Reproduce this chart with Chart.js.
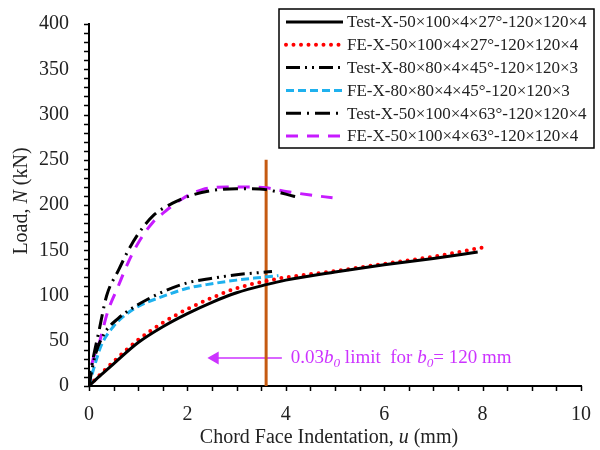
<!DOCTYPE html>
<html>
<head>
<meta charset="utf-8">
<script src="https://cdn.jsdelivr.net/npm/chart.js@4.4.0/dist/chart.umd.min.js"></script>
<style>
  html, body { margin: 0; padding: 0; background: #fff; }
</style>
</head>
<body>
<canvas id="chart" width="600" height="450"></canvas>
<script>
// Data (u in mm, N in kN)
const test27U = [0, 0.25, 0.5, 1, 1.5, 2, 2.5, 3, 3.6, 4, 5, 6, 7, 7.9];
const test27N = [0, 12.5, 24.5, 48, 65.5, 80, 92.5, 103, 112, 117, 126, 134, 141, 148];

const fe27U = [0, 0.25, 0.5, 1, 1.5, 2, 2.5, 3, 3.6, 4, 5, 6, 7, 8];
const fe27N = [0, 14, 27, 51, 70, 85, 97.5, 108, 116, 120, 127, 135, 143, 153];

const test45U = [0, 0.05, 0.12, 0.3, 0.6, 1, 1.5, 2, 2.5, 3, 3.5, 3.72];
const test45N = [0, 15, 33, 57, 75, 90, 104, 114, 119, 123, 125.5, 126.5];

const fe45U = [0, 0.05, 0.1, 0.25, 0.5, 0.75, 1, 1.5, 2, 2.5, 3, 3.5, 3.85];
const fe45N = [0, 10, 20, 45, 66, 79, 88, 99, 108, 113, 117, 120, 122];

const test63U = [0, 0.05, 0.2, 0.36, 0.6, 0.8, 1, 1.3, 1.7, 2.1, 2.5, 3, 3.3, 3.6, 4, 4.27];
const test63N = [0, 20, 60, 100, 128, 150, 168, 188, 202, 211, 216, 218, 218, 217, 212, 208];

const fe63U = [0, 0.05, 0.2, 0.38, 0.6, 0.8, 1, 1.3, 1.55, 1.9, 2.3, 2.8, 3.2, 3.6, 4, 4.5, 4.95];
const fe63N = [0, 22, 46, 82, 111, 137, 158, 181, 193, 207, 217, 220, 220, 219, 215, 211, 208];

const seriesLabels = [
    'Test-X-50\u00d7100\u00d74\u00d727\u00b0-120\u00d7120\u00d74',
    'FE-X-50\u00d7100\u00d74\u00d727\u00b0-120\u00d7120\u00d74',
    'Test-X-80\u00d780\u00d74\u00d745\u00b0-120\u00d7120\u00d73',
    'FE-X-80\u00d780\u00d74\u00d745\u00b0-120\u00d7120\u00d73',
    'Test-X-50\u00d7100\u00d74\u00d763\u00b0-120\u00d7120\u00d74',
    'FE-X-50\u00d7100\u00d74\u00d763\u00b0-120\u00d7120\u00d74'
];

// 0.03 b0 limit for b0 = 120 mm
const limitU = [3.6, 3.6];
const limitN = [0, 250];
const arrowU = [3.92, 2.56];
const arrowN = [31, 31];
const noteU = 4.1;
const noteN = 31;

const uMin = 0, uMax = 10, uStep = 2, uMinorStep = 0.5;
const nMin = 0, nMax = 400, nStep = 50, nMinorStep = 10;

const serif = "'Liberation Serif', 'Times New Roman', serif";
const textColor = '#222';
const annoColor = '#cc33ff';

function pts(us, ns) {
    return us.map((u, i) => ({ x: u, y: ns[i] }));
}

function curve(label, us, ns, color, width, dash, cap) {
    return {
        label: label,
        data: pts(us, ns),
        showLine: true,
        borderColor: color,
        backgroundColor: color,
        borderWidth: width,
        borderDash: dash,
        borderCapStyle: cap || 'butt',
        pointRadius: 0,
        cubicInterpolationMode: 'monotone',
        fill: false
    };
}

const datasets = [
    curve(seriesLabels[0], test27U, test27N, '#000000', 3, []),
    curve(seriesLabels[1], fe27U, fe27N, '#ff0000', 4, [0, 7.5], 'round'),
    curve(seriesLabels[2], test45U, test45N, '#000000', 3, [14, 5, 2, 5, 2, 5]),
    curve(seriesLabels[3], fe45U, fe45N, '#1fb1ee', 3, [8, 4]),
    curve(seriesLabels[4], test63U, test63N, '#000000', 3, [15, 6, 2, 6]),
    curve(seriesLabels[5], fe63U, fe63N, '#c71bff', 3, [12, 9]),
    {
        label: 'limit',
        data: pts(limitU, limitN),
        showLine: true,
        borderColor: '#c55a11',
        borderWidth: 3,
        pointRadius: 0,
        tension: 0
    },
    {
        label: 'arrow',
        data: pts(arrowU, arrowN),
        showLine: true,
        borderColor: annoColor,
        backgroundColor: annoColor,
        borderWidth: 1.5,
        pointRadius: [0, 6],
        pointStyle: 'triangle',
        rotation: 270,
        tension: 0
    }
];

// draw text made of plain / italic / subscript parts
function richWidth(ctx, parts, size) {
    let w = 0;
    parts.forEach(p => {
        const s = p.sub ? size * 0.7 : size;
        ctx.font = (p.it ? 'italic ' : '') + s + 'px ' + serif;
        w += ctx.measureText(p.t).width;
    });
    return w;
}

function drawRich(ctx, parts, x, y, size, color) {
    ctx.fillStyle = color;
    ctx.textBaseline = 'middle';
    ctx.textAlign = 'left';
    let cx = x;
    parts.forEach(p => {
        const s = p.sub ? size * 0.7 : size;
        ctx.font = (p.it ? 'italic ' : '') + s + 'px ' + serif;
        ctx.fillText(p.t, cx, p.sub ? y + size * 0.3 : y);
        cx += ctx.measureText(p.t).width;
    });
}

const decorPlugin = {
    id: 'decor',
    afterDraw(chart) {
        const ctx = chart.ctx;
        const xs = chart.scales.x;
        const ys = chart.scales.y;
        const area = chart.chartArea;
        ctx.save();

        // tick marks (outside)
        ctx.strokeStyle = '#000';
        ctx.lineWidth = 1.5;
        ctx.setLineDash([]);
        for (let v = uMin; v <= uMax + 1e-9; v += uMinorStep) {
            const px = Math.round(xs.getPixelForValue(v)) + 0.5;
            ctx.beginPath();
            ctx.moveTo(px, area.bottom);
            ctx.lineTo(px, area.bottom + 5);
            ctx.stroke();
        }
        for (let v = nMin; v <= nMax + 1e-9; v += nMinorStep) {
            const py = Math.round(ys.getPixelForValue(v)) + 0.5;
            ctx.beginPath();
            ctx.moveTo(area.left, py);
            ctx.lineTo(area.left - 5, py);
            ctx.stroke();
        }

        // axis titles
        const xTitle = [{ t: 'Chord Face Indentation, ' }, { t: 'u', it: true }, { t: ' (mm)' }];
        const xw = richWidth(ctx, xTitle, 20);
        drawRich(ctx, xTitle, (area.left + area.right) / 2 - 6 - xw / 2, 438, 20, textColor);

        const yTitle = [{ t: 'Load, ' }, { t: 'N', it: true }, { t: ' (kN)' }];
        const yw = richWidth(ctx, yTitle, 20);
        ctx.save();
        ctx.translate(22, 201);
        ctx.rotate(-Math.PI / 2);
        drawRich(ctx, yTitle, -yw / 2, 0, 20, textColor);
        ctx.restore();

        // limit note
        const note = [
            { t: '0.03' }, { t: 'b', it: true }, { t: '0', it: true, sub: true },
            { t: ' limit  for ' }, { t: 'b', it: true }, { t: '0', it: true, sub: true },
            { t: '= 120 mm' }
        ];
        drawRich(ctx, note, xs.getPixelForValue(noteU), ys.getPixelForValue(noteN), 19, annoColor);

        // legend
        const lx = 279, ly = 9, lw = 315, lh = 139;
        ctx.fillStyle = '#fff';
        ctx.fillRect(lx, ly, lw, lh);
        ctx.strokeStyle = '#000';
        ctx.lineWidth = 1.5;
        ctx.strokeRect(lx, ly, lw, lh);
        for (let i = 0; i < 6; i++) {
            const ds = chart.data.datasets[i];
            const ry = ly + 13 + i * 22.8;
            ctx.strokeStyle = ds.borderColor;
            ctx.lineWidth = ds.borderWidth;
            ctx.lineCap = ds.borderCapStyle;
            ctx.setLineDash(ds.borderDash);
            ctx.beginPath();
            ctx.moveTo(286, ry);
            ctx.lineTo(343, ry);
            ctx.stroke();
            ctx.setLineDash([]);
            ctx.lineCap = 'butt';
            drawRich(ctx, [{ t: ds.label }], 347, ry + 1, 17, textColor);
        }
        ctx.restore();
    }
};

new Chart(document.getElementById('chart'), {
    type: 'scatter',
    data: { datasets: datasets },
    plugins: [decorPlugin],
    options: {
        responsive: false,
        animation: false,
        layout: { padding: { top: 8, right: 15, left: 0, bottom: 0 } },
        plugins: {
            legend: { display: false },
            tooltip: { enabled: false }
        },
        scales: {
            x: {
                type: 'linear',
                min: uMin,
                max: uMax,
                grid: { display: false },
                border: { display: true, color: '#000', width: 2 },
                ticks: {
                    stepSize: uStep,
                    padding: 9,
                    color: textColor,
                    font: { family: serif, size: 20 },
                    maxRotation: 0
                },
                afterFit: function(scale) { scale.height = 64; }
            },
            y: {
                type: 'linear',
                min: nMin,
                max: nMax,
                grid: { display: false },
                border: { display: true, color: '#000', width: 2 },
                ticks: {
                    stepSize: nStep,
                    padding: 12,
                    color: textColor,
                    font: { family: serif, size: 20 }
                },
                afterFit: function(scale) { scale.width = 89; }
            }
        }
    }
});
</script>
</body>
</html>
